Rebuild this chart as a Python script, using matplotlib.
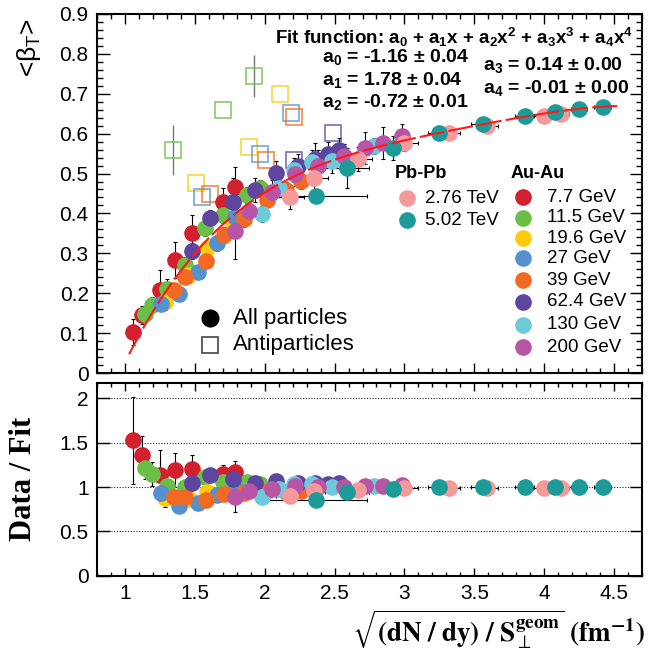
import numpy as np
import matplotlib.pyplot as plt
from matplotlib.ticker import MultipleLocator, NullLocator

plt.rcParams['font.family'] = ['Liberation Sans', 'DejaVu Sans']
plt.rcParams['mathtext.fontset'] = 'custom'
plt.rcParams['mathtext.rm'] = 'Liberation Sans'
plt.rcParams['mathtext.it'] = 'Liberation Sans:italic'
plt.rcParams['mathtext.bf'] = 'Liberation Sans:bold'

# fit a0..a4 (unrounded a3, a4) and the range it is drawn over
fit_coef = [-1.16, 1.78, -0.72, 0.136, -0.00974]
fit_range = [1.03, 4.55]

# Au-Au, all particles: x, <beta_T>, error
x_77 = [1.06, 1.12, 1.25, 1.36, 1.48, 1.70, 1.79]
y_77 = [0.103, 0.145, 0.207, 0.284, 0.350, 0.428, 0.467]
e_77 = [0.033, 0.022, 0.05, 0.045, 0.045, 0.035, 0.05]

x_115 = [1.145, 1.19, 1.30, 1.43, 1.57, 1.70, 1.87, 1.97]
y_115 = [0.147, 0.170, 0.211, 0.270, 0.363, 0.395, 0.446, 0.463]
e_115 = [0.015, 0.02, 0.025, 0.02, 0.02, 0.02, 0.02, 0.02]

x_196 = [1.29, 1.46, 1.59, 1.77]
y_196 = [0.178, 0.246, 0.314, 0.370]
e_196 = [0.02, 0.02, 0.015, 0.02]

x_27 = [1.26, 1.39, 1.52, 1.66, 1.79]
y_27 = [0.174, 0.199, 0.252, 0.326, 0.390]
e_27 = [0.015, 0.015, 0.015, 0.02, 0.02]

x_39 = [1.35, 1.43, 1.58, 1.71, 1.85, 2.02, 2.15, 2.26]
y_39 = [0.207, 0.240, 0.281, 0.345, 0.387, 0.434, 0.458, 0.481]
e_39 = [0.015, 0.015, 0.015, 0.02, 0.02, 0.03, 0.02, 0.02]

x_624 = [1.48, 1.61, 1.77, 1.93, 2.08, 2.24, 2.36, 2.45, 2.53]
y_624 = [0.306, 0.389, 0.428, 0.458, 0.502, 0.518, 0.537, 0.549, 0.560]
e_624 = [0.02, 0.02, 0.06, 0.03, 0.03, 0.03, 0.04, 0.03, 0.03]

x_130 = [1.98, 2.10, 2.21, 2.34, 2.48, 2.78]
y_130 = [0.399, 0.463, 0.508, 0.529, 0.532, 0.570]
e_130 = [0.02, 0.02, 0.03, 0.03, 0.03, 0.02]

x_200 = [1.79, 1.89, 2.05, 2.22, 2.38, 2.57, 2.72, 2.85, 2.98]
y_200 = [0.355, 0.405, 0.453, 0.499, 0.519, 0.543, 0.564, 0.577, 0.594]
e_200 = [0.07, 0.03, 0.03, 0.03, 0.04, 0.03, 0.04, 0.04, 0.03]

# Pb-Pb
x_276 = [2.18, 2.35, 2.67, 3.00, 3.32, 3.59, 4.00, 4.12]
y_276 = [0.440, 0.490, 0.536, 0.577, 0.601, 0.620, 0.644, 0.650]
ey_276 = [0.03, 0.04, 0.03, 0.02, 0.015, 0.015, 0.01, 0.01]
ex_276 = [0.10, 0.10, 0.10, 0.10, 0.08, 0.08, 0.08, 0.06]

x_502 = [2.37, 2.59, 2.92, 3.25, 3.56, 3.86, 4.08, 4.25, 4.42]
y_502 = [0.443, 0.515, 0.565, 0.602, 0.625, 0.643, 0.655, 0.662, 0.667]
ey_502 = [0.005, 0.05, 0.03, 0.01, 0.015, 0.01, 0.01, 0.005, 0.005]
ex_502 = [0.36, 0.16, 0.10, 0.08, 0.08, 0.07, 0.06, 0.06, 0.06]

# antiparticles (open squares)
ax_115 = [1.343, 1.70, 1.92]
ay_115 = [0.559, 0.659, 0.744]
ae_115 = [0.062, 0.0, 0.052]
ax_196 = [1.51, 1.89, 2.11]
ay_196 = [0.476, 0.567, 0.700]
ax_27 = [1.55, 1.97, 2.19]
ay_27 = [0.441, 0.549, 0.652]
ax_39 = [1.61, 2.01, 2.21]
ay_39 = [0.448, 0.534, 0.642]
ax_624 = [2.21, 2.49]
ay_624 = [0.534, 0.601]

au_labels = ['7.7 GeV', '11.5 GeV', '19.6 GeV', '27 GeV', '39 GeV', '62.4 GeV', '130 GeV', '200 GeV']
au_colors = ['#d2202f', '#6bbf46', '#fdcb0b', '#5591cf', '#f26a22', '#5e45a0', '#6ccadb', '#b955a6']
pb_labels = ['2.76 TeV', '5.02 TeV']
pb_colors = ['#f49a9b', '#1d9b98']

au_series = [(x_77, y_77, e_77), (x_115, y_115, e_115), (x_196, y_196, e_196), (x_27, y_27, e_27),
             (x_39, y_39, e_39), (x_624, y_624, e_624), (x_130, y_130, e_130), (x_200, y_200, e_200)]
pb_series = [(x_276, y_276, ey_276, ex_276), (x_502, y_502, ey_502, ex_502)]
anti_series = [(ax_115, ay_115, ae_115, 1), (ax_196, ay_196, None, 2), (ax_27, ay_27, None, 3),
               (ax_39, ay_39, None, 4), (ax_624, ay_624, None, 5)]


def fit(x):
    x = np.asarray(x, dtype=float)
    return sum(c * x**i for i, c in enumerate(fit_coef))


fig = plt.figure(figsize=(6.48, 6.56), dpi=100)
ax = fig.add_axes([0.1497, 0.4314, 0.8410, 0.5473])
axr = fig.add_axes([0.1497, 0.1220, 0.8410, 0.2942])

ms = 12
ebar = dict(fmt='none', ecolor='black', elinewidth=0.8, capsize=1.5, capthick=0.8, zorder=2)

# open squares first, they sit behind the circles
for xs, ys, es, ci in anti_series:
    if es is not None:
        ax.errorbar(xs, ys, yerr=es, fmt='none', ecolor='#777777', elinewidth=1.0, capsize=0, zorder=1)
    ax.plot(xs, ys, 's', ms=ms, mfc='none', mec=au_colors[ci], mew=1.2, alpha=0.8, zorder=1.5)

for (xs, ys, es), col in zip(au_series, au_colors):
    xs, ys, es = np.array(xs), np.array(ys), np.array(es)
    ax.errorbar(xs, ys, yerr=es, **ebar)
    ax.plot(xs, ys, 'o', ms=ms, color=col, mec='none', zorder=3)
    axr.errorbar(xs, ys / fit(xs), yerr=es / fit(xs), **ebar)
    axr.plot(xs, ys / fit(xs), 'o', ms=ms, color=col, mec='none', zorder=3)

for (xs, ys, es, exs), col in zip(pb_series, pb_colors):
    xs, ys, es, exs = np.array(xs), np.array(ys), np.array(es), np.array(exs)
    ax.errorbar(xs, ys, yerr=es, xerr=exs, **ebar)
    ax.plot(xs, ys, 'o', ms=ms, color=col, mec='none', zorder=3.5)
    axr.errorbar(xs, ys / fit(xs), yerr=es / fit(xs), xerr=exs, **ebar)
    axr.plot(xs, ys / fit(xs), 'o', ms=ms, color=col, mec='none', zorder=3.5)

xf = np.linspace(fit_range[0], fit_range[1], 300)
ax.plot(xf, fit(xf), color='#ff1a1a', lw=1.5, dashes=(12, 2), zorder=5)

# axes styling
for a in (ax, axr):
    a.set_xlim(0.8, 4.7)
    a.xaxis.set_major_locator(MultipleLocator(0.5))
    a.xaxis.set_minor_locator(MultipleLocator(0.1))
    a.tick_params(which='both', direction='in', top=True, right=True, labelsize=15, width=1.0)
    for s in a.spines.values():
        s.set_linewidth(1.5)

ax.set_ylim(0, 0.9)
ax.yaxis.set_major_locator(MultipleLocator(0.1))
ax.yaxis.set_minor_locator(MultipleLocator(0.02))
ax.tick_params(axis='y', which='major', length=9, pad=6)
ax.tick_params(axis='y', which='minor', length=4.5)
ax.tick_params(axis='x', which='major', length=7)
ax.tick_params(axis='x', which='minor', length=3.5)
ax.tick_params(axis='x', labelbottom=False)
ax.set_yticks(np.arange(0, 0.91, 0.1))
ax.set_yticklabels(['0', '0.1', '0.2', '0.3', '0.4', '0.5', '0.6', '0.7', '0.8', '0.9'])

axr.set_ylim(0, 2.17)
axr.yaxis.set_major_locator(MultipleLocator(0.5))
axr.yaxis.set_minor_locator(NullLocator())
axr.set_yticks([0, 0.5, 1, 1.5, 2])
axr.set_yticklabels(['0', '0.5', '1', '1.5', '2'])
axr.set_xticks([1, 1.5, 2, 2.5, 3, 3.5, 4, 4.5])
axr.set_xticklabels(['1', '1.5', '2', '2.5', '3', '3.5', '4', '4.5'])
axr.tick_params(axis='y', which='major', length=9, pad=6)
axr.tick_params(axis='x', which='major', length=5.5, pad=6)
axr.tick_params(axis='x', which='minor', length=3)
for yv in [0.5, 1, 1.5, 2]:
    axr.axhline(yv, color='#222222', lw=0.8, ls=(0, (1, 1.5)), zorder=0.5)

# axis titles
fig.text(0.045, 0.972, '<β$_{\\mathrm{T}}$>', rotation=90, ha='center', va='top', fontsize=19)
fig.text(0.036, 0.270, 'Data / Fit', rotation=90, ha='center', va='center', fontsize=22,
         family='Liberation Serif', weight='bold')
fig.text(0.995, 1 - 630 / 656,
         r'$\sqrt{\mathbf{(dN\ /\ dy)\ /\ S}_{\perp}^{\mathbf{geom}}}\ \mathbf{(fm}^{\mathbf{-1}}\mathbf{)}$',
         ha='right', va='center', fontsize=19.5, math_fontfamily='stix')

# fit text
tb = dict(transform=ax.transAxes, fontweight='bold', va='center')
ax.text(0.983, 0.936, r'Fit function: a$_\mathbf{0}$ + a$_\mathbf{1}$x + a$_\mathbf{2}$x$^\mathbf{2}$'
        r' + a$_\mathbf{3}$x$^\mathbf{3}$ + a$_\mathbf{4}$x$^\mathbf{4}$', ha='right', fontsize=13.5, **tb)
ax.text(0.413, 0.880, r'a$_\mathbf{0}$ = -1.16 ± 0.04', ha='left', fontsize=14, **tb)
ax.text(0.413, 0.816, r'a$_\mathbf{1}$ = 1.78 ± 0.04', ha='left', fontsize=14, **tb)
ax.text(0.413, 0.755, r'a$_\mathbf{2}$ = -0.72 ± 0.01', ha='left', fontsize=14, **tb)
ax.text(0.708, 0.858, r'a$_\mathbf{3}$ = 0.14 ± 0.00', ha='left', fontsize=14, **tb)
ax.text(0.708, 0.794, r'a$_\mathbf{4}$ = -0.01 ± 0.00', ha='left', fontsize=14, **tb)

# legends
tl = dict(transform=ax.transAxes, va='center', ha='left')
ax.text(0.547, 0.557, 'Pb-Pb', fontsize=13, fontweight='bold', **tl)
ax.text(0.758, 0.557, 'Au-Au', fontsize=13, fontweight='bold', **tl)
for lab, col, yy in zip(pb_labels, pb_colors, [0.487, 0.426]):
    ax.plot(0.569, yy, 'o', ms=ms, color=col, mec='none', transform=ax.transAxes, clip_on=False)
    ax.text(0.602, yy, lab, fontsize=13.5, **tl)
for lab, col, yy in zip(au_labels, au_colors, [0.490, 0.433, 0.376, 0.319, 0.259, 0.198, 0.135, 0.072]):
    ax.plot(0.782, yy, 'o', ms=ms, color=col, mec='none', transform=ax.transAxes, clip_on=False)
    ax.text(0.826, yy, lab, fontsize=13.5, **tl)

ax.plot(0.207, 0.153, 'o', ms=ms, color='black', transform=ax.transAxes)
ax.text(0.250, 0.153, 'All particles', fontsize=16, **tl)
ax.plot(0.207, 0.078, 's', ms=ms, mfc='none', mec='#444444', mew=1.2, transform=ax.transAxes)
ax.text(0.250, 0.078, 'Antiparticles', fontsize=16, **tl)

fig.savefig('out.png', dpi=100)
